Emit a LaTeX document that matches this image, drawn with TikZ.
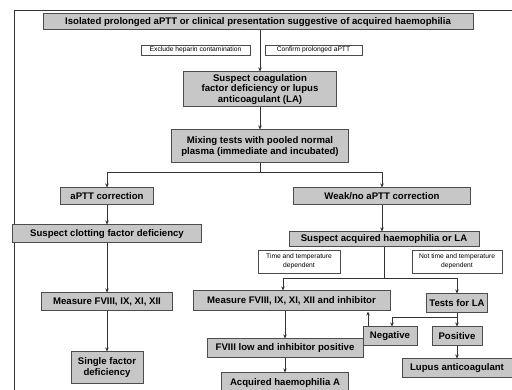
\documentclass[tikz,border=0pt]{standalone}
\usepackage{fontspec}
\setmainfont{Liberation Sans}
\usetikzlibrary{arrows.meta}

\tikzset{
  box/.style={draw=black!70, fill=black!22, line width=1pt, inner sep=0pt, align=center,
    font=\fontsize{9.6}{11}\selectfont\bfseries},
  note/.style={draw=black!70, fill=white, line width=0.8pt, inner sep=0pt, align=center,
    font=\fontsize{6.7}{8.5}\selectfont},
  arr/.style={-{Stealth[length=4pt,width=3.5pt]}, line width=1pt, black!80},
  link/.style={line width=1pt, black!80}
}

\begin{document}
\begin{tikzpicture}[x=1pt,y=-1pt]
\useasboundingbox (0,0) rectangle (512,390);

% Frame of the figure
\draw[link] (512,11) -- (14,11) -- (14,392);

% Top of the chart
\node[box, minimum width=430, minimum height=16] (start) at (258,22)
  {Isolated prolonged aPTT or clinical presentation suggestive of acquired haemophilia};
\node[note, minimum width=109, minimum height=10] (heparin) at (195.5,50) {Exclude heparin contamination};
\node[note, minimum width=97, minimum height=10] (confirm) at (313.5,50) {Confirm prolonged aPTT};
\node[box, minimum width=153, minimum height=35, font=\fontsize{9.6}{10.5}\selectfont\bfseries] (suspect) at (260,89.5)
  {Suspect coagulation\\factor deficiency or lupus\\anticoagulant (LA)};
\node[box, minimum width=177, minimum height=33] (mixing) at (260,146.5)
  {Mixing tests with pooled normal\\plasma (immediate and incubated)};

% Left branch
\node[box, minimum width=93, minimum height=17] (corr) at (107,196.5) {aPTT correction};
\node[box, minimum width=189, minimum height=18] (clotting) at (107,234) {Suspect clotting factor deficiency};
\node[box, minimum width=131, minimum height=18] (measure) at (107,302) {Measure FVIII, IX, XI, XII};
\node[box, minimum width=72, minimum height=32] (single) at (107,368) {Single factor\\deficiency};

% Right branch
\node[box, minimum width=177, minimum height=17] (weak) at (382,196.5) {Weak/no aPTT correction};
\node[box, minimum width=190, minimum height=15] (acquired) at (384,239.5) {Suspect acquired haemophilia or LA};
\node[note, minimum width=82, minimum height=23] (timedep) at (299,261.5) {Time and temperature\\dependent};
\node[note, minimum width=90, minimum height=23] (nottimedep) at (457,261.5) {Not time and temperature\\dependent};
\node[box, minimum width=197, minimum height=20] (inhibitor) at (291.5,301) {Measure FVIII, IX, XI, XII and inhibitor};
\node[box, minimum width=61, minimum height=19] (latests) at (457,303.5) {Tests for LA};
\node[box, minimum width=54, minimum height=19] (negative) at (390,336.5) {Negative};
\node[box, minimum width=50, minimum height=19] (positive) at (457,336.5) {Positive};
\node[box, minimum width=156, minimum height=19] (fviii) at (285,348.5) {FVIII low and inhibitor positive};
\node[box, minimum width=127, minimum height=20] (haemA) at (285,383) {Acquired haemophilia A};
\node[box, minimum width=110, minimum height=19] (lupus) at (457,368.5) {Lupus anticoagulant};

% Connectors at the top
\draw[arr] (start.south -| suspect.north) -- (suspect.north);
\draw[arr] (suspect) -- (mixing);
\draw[link] (mixing.south) -- ++(0,9) coordinate (split);
\draw[arr] (split) -| (corr.north);
\draw[arr] (split) -| (weak.north);

% Connectors on the left
\draw[arr] (corr) -- (clotting);
\draw[arr] (clotting) -- (measure);
\draw[arr] (measure) -- (single);

% Connectors on the right
\draw[arr] (weak) -- (weak.south |- acquired.north);
\draw[link] (acquired.south) -- ++(0,31) coordinate (fork);
\draw[arr] (fork) -| ([xshift=-8.5pt]inhibitor.north);
\draw[arr] (fork) -| (latests.north);
\draw[arr] (inhibitor.south -| fviii) -- (fviii);
\draw[arr] (fviii) -- (haemA);
\draw[link] (latests.south) -- ++(0,4) coordinate (latfork);
\draw[arr] (latfork) -| ([xshift=2pt]negative.north);
\draw[arr] (latfork) -- (positive.north);
\draw[arr] ([xshift=-22pt]negative.north) -- ([xshift=-22pt]negative.north |- inhibitor.south);
\draw[arr] (positive) -- (lupus);

\end{tikzpicture}
\end{document}
